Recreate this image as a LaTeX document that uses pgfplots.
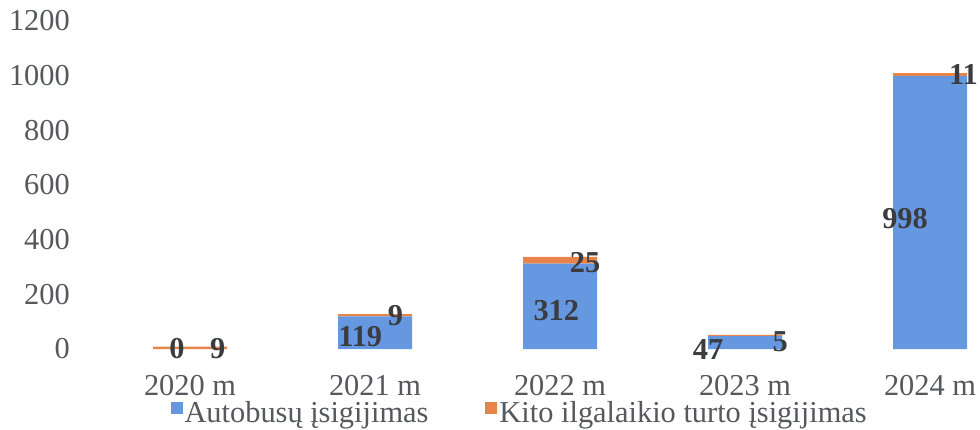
\documentclass[border=0pt]{standalone}
\usepackage{pgfplots}
\pgfplotsset{compat=1.18}
\usepackage{fontspec}
\setmainfont{Liberation Serif}
\definecolor{busblue}{RGB}{102,152,226}
\definecolor{othorange}{RGB}{231,132,74}
\definecolor{ticktxt}{RGB}{85,88,92}
\definecolor{labtxt}{RGB}{58,60,64}
\newcommand{\chartfont}{\fontsize{30.5}{36}\selectfont}
\pgfplotsset{
  common/.style={
    scale only axis,
    width=901bp, height=328bp,
    xmin=-0.6, xmax=4.27,
    ymin=0, ymax=1200,
    clip=false,
  }
}
\begin{document}
\begin{tikzpicture}
\begin{axis}[
  common,
  ybar stacked,
  bar width=74bp,
  axis line style={draw=none},
  tick style={draw=none},
  xtick={0,1,2,3,4},
  xticklabels={2020 m,2021 m,2022 m,2023 m,2024 m},
  ytick={0,200,400,600,800,1000,1200},
  /pgf/number format/assume math mode=true,
  /pgf/number format/1000 sep={},
  ticklabel style={font=\chartfont, text=ticktxt},
  yticklabel style={anchor=east, inner sep=0pt, xshift=-9bp},
  xticklabel style={anchor=base, inner sep=0pt, yshift=-46bp},
  legend columns=2,
  legend style={draw=none, fill=none, font=\chartfont, text=ticktxt,
    at={(0.489,-0.195)}, anchor=center,
    nodes={inner sep=2bp},
    /tikz/every even column/.append style={column sep=55bp}},
  legend image code/.code={\fill[#1] (0bp,-1bp) rectangle (12bp,11bp);},
]
\addplot[fill=busblue, draw=none] coordinates {(0,0) (1,119) (2,312) (3,47) (4,998)};
\addlegendentry{Autobusų įsigijimas}
\addplot[fill=othorange, draw=none] coordinates {(0,9) (1,9) (2,25) (3,5) (4,11)};
\addlegendentry{Kito ilgalaikio turto įsigijimas}
\end{axis}
\begin{axis}[common, hide axis]
\addplot[draw=none, mark=none, nodes near coords, point meta=explicit symbolic,
  nodes near coords align=center,
  every node near coord/.append style={font=\chartfont\bfseries, text=labtxt, inner sep=0pt}]
  table[meta=label] {
x y label
-0.07 0 0
0.92 44 119
1.98 142 312
2.80 0 47
3.865 479 998
0.15 0 9
1.11 124 9
2.135 315 25
3.19 26 5
4.18 1003 11
};
\end{axis}
\pgfresetboundingbox
\useasboundingbox (-79bp,-81bp) rectangle (901bp,349bp);
\end{tikzpicture}
\end{document}
